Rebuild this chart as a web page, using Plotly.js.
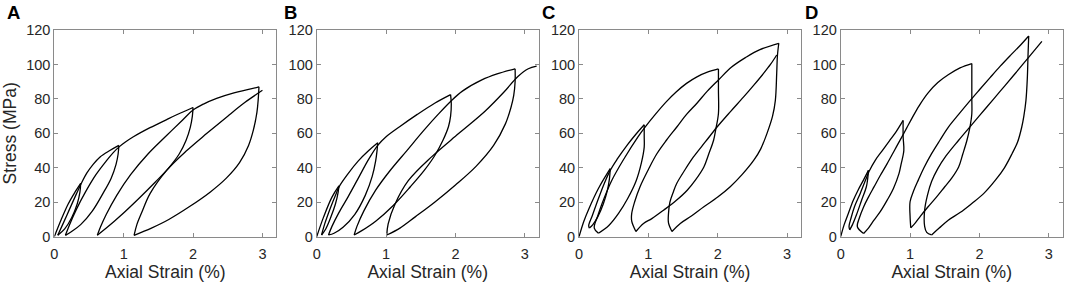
<!DOCTYPE html>
<html>
<head>
<meta charset="utf-8">
<script src="https://cdn.plot.ly/plotly-3.0.1.min.js"></script>
<style>html,body{margin:0;padding:0;background:#fff;}#chart{width:1065px;height:288px;}</style>
</head>
<body>
<div id="chart"></div>
<script>
// Panel labels and axis texts
const panelLabels = ["A", "B", "C", "D"];
const xTitle = "Axial Strain (%)";
const yTitle = "Stress (MPa)";
const xTickVals = [0, 1, 2, 3];
const yTickVals = [0, 20, 40, 60, 80, 100, 120];

// Panel A: axial strain (%) and stress (MPa) along the cyclic loading path
const strainA = [0,0.1,0.2,0.3,0.38, 0.37,0.33,0.25,0.15,0.05,
  0.12,0.22,0.32,0.39,0.47,0.56,0.66,0.8,0.93,
  0.92,0.89,0.82,0.7,0.55,0.38,0.25,0.16,
  0.22,0.32,0.45,0.6,0.75,0.85,0.93,1.02,1.14,1.38,1.62,1.82,2.0,
  1.99,1.96,1.9,1.8,1.65,1.45,1.2,0.95,0.78,0.62,
  0.67,0.75,0.9,1.1,1.35,1.6,1.85,2.0,2.15,2.34,2.59,2.8,2.95,
  2.94,2.92,2.87,2.8,2.67,2.48,2.25,1.95,1.65,1.4,1.15,
  1.19,1.26,1.38,1.62,1.91,2.2,2.5,2.75,3.0];
const stressA = [0,10,19,26,31, 26,19,11,4.5,0.8,
  7,16,25,31,37,42,46.3,50,53,
  48,42,34,25,15,7,3,0.8,
  7,16,26,36,44,48.8,52,54.8,58,63.3,68,71.8,75,
  70,63.5,56,48,40,31.5,21.5,12,6,0.8,
  6,13,24,36,48,58,67.8,73.5,77,80.3,83.5,85.5,87,
  80,72,62,53,43,34,26,17.5,10,5,0.8,
  7,14,25,38.5,50,60,70,78,85];

// Panel B
const strainB = [0,0.1,0.22,0.32, 0.31,0.27,0.2,0.13,0.07,
  0.12,0.2,0.28,0.33,0.45,0.6,0.75,0.88,
  0.87,0.85,0.8,0.7,0.55,0.38,0.25,0.17,
  0.22,0.32,0.45,0.6,0.75,0.88,1.0,1.2,1.45,1.7,1.93,
  1.94,1.93,1.9,1.82,1.7,1.55,1.35,1.1,0.85,0.65,0.54,
  0.58,0.68,0.85,1.05,1.3,1.55,1.75,1.93,2.1,2.38,2.6,2.86,
  2.86,2.84,2.8,2.72,2.55,2.3,2.0,1.7,1.42,1.2,1.01,
  1.03,1.13,1.32,1.66,2.05,2.43,2.7,2.9,3.05,3.17];
const stressB = [0,11.5,23,29.5, 26,19,11,4.5,1,
  8,17,25,29.5,36.5,44,50,54.5,
  50,44,35,24,13,5.5,2,1,
  6,14,23,34,45,53,58,64,71,77.5,82.5,
  77,70,64,56,47,38.5,29,18,9,3.5,1,
  6,15,27,38,50,62,71,78.5,84.5,91,94.5,97.5,
  90,82,75,65.5,53,41,30,20,11.5,5,1,
  7.5,19,32.5,46.5,60,73,84,93,97.5,99];

// Panel C
const strainC = [0,0.07,0.14,0.28,0.45, 0.44,0.41,0.35,0.27,0.2,0.15,
  0.14,0.19,0.27,0.36,0.45,0.55,0.7,0.82,0.94,
  0.94,0.94,0.9,0.82,0.7,0.57,0.43,0.28,
  0.22,0.27,0.33,0.47,0.66,0.85,0.95,1.1,1.25,1.4,1.55,1.7,1.85,2.01,
  2.01,2.01,1.97,1.94,1.87,1.8,1.68,1.56,1.4,1.22,1.05,0.93,0.82,
  0.76,0.76,0.8,0.88,1.0,1.12,1.26,1.41,1.55,1.7,1.85,2.01,2.2,2.4,2.6,2.88,
  2.86,2.85,2.83,2.79,2.71,2.62,2.52,2.35,2.18,2.0,1.8,1.62,1.46,1.34,
  1.29,1.29,1.31,1.36,1.41,1.53,1.65,1.82,1.99,2.18,2.37,2.52,2.66,2.76,2.85];
const stressC = [0,9,16,28,39.5, 34,27,19,11.5,7,5,
  6.5,12,21,30.5,38.5,45,53.5,59.5,65,
  58,52,43,32,22,13.5,6.5,2,
  5,12,19,32.5,46,58,63.5,71,78,84,89,92.8,95.5,97.4,
  85,71.5,62,56,48,40.5,33,27,21,15.4,10.5,7.7,3,
  9,13.5,20,29,39,48,56,63.7,71,77.5,84.5,91,98.5,104,108.5,112.3,
  105,95,79,70,60,51,44.4,36,29,23,17.4,12,7.7,3,
  8,13.5,20,26,31,39,46.3,55,63.7,72.5,81,88,94.8,100,105.5];

// Panel D
const strainD = [0,0.05,0.11,0.18,0.25,0.33,0.4, 0.39,0.37,0.3,0.23,0.17,0.13,
  0.12,0.15,0.2,0.28,0.36,0.41,0.5,0.6,0.7,0.8,0.9,
  0.9,0.91,0.87,0.84,0.76,0.67,0.57,0.48,0.4,0.33,
  0.24,0.27,0.33,0.4,0.48,0.57,0.67,0.78,0.88,0.95,1.03,1.13,1.26,1.4,1.55,1.72,1.89,
  1.89,1.89,1.89,1.86,1.82,1.76,1.7,1.6,1.5,1.38,1.26,1.15,1.07,1.01,
  1.0,1.0,1.05,1.12,1.2,1.31,1.43,1.55,1.7,1.85,2.0,2.15,2.3,2.45,2.6,2.71,
  2.7,2.69,2.67,2.64,2.61,2.55,2.47,2.36,2.23,2.06,1.89,1.72,1.55,1.42,1.31,
  1.24,1.21,1.21,1.25,1.31,1.4,1.52,1.7,1.9,2.1,2.3,2.5,2.7,2.9];
const stressD = [0,7,13.5,21,27,33,38.5, 34,29,21,13,7,4,
  6,11,17.5,25,33,38,44.5,50,55.5,61,67.5,
  58,50,42,36.6,28,21.2,14.5,9.6,5,1.9,
  5.8,11,17.3,23,28.9,35.5,42.4,50.5,57.8,63,69,76,83.5,89.5,94,98,100.5,
  90,80,71.4,63,56,48,40.5,34,29,23,17.4,12,7.7,5.2,
  12,20.3,26.5,33,40,48.2,56,63.5,71,78.3,85.3,92.2,99,105.4,111.6,116.5,
  105,92,79,70,63.7,55,48.2,40,32.8,25,19.3,14,9.6,5,1,
  2.5,6,15.4,24,32,39.5,47,56,65.5,75,84.5,94,103.7,113.4];

const strains = [strainA, strainB, strainC, strainD];
const stresses = [stressA, stressB, stressC, stressD];

const leftPx = [54.3, 316.7, 579, 840.7];
const plotW = 222;
const W = 1065, H = 288;
const yDom = [1 - 236.7 / H, 1 - 30 / H];
const labelX = [13.7, 290.8, 548.8, 811];

const tickFont = {family: "Liberation Sans, Arial, sans-serif", size: 14.5, color: "#262626"};
const titleFont = {family: "Liberation Sans, Arial, sans-serif", size: 17.5, color: "#262626"};
const axisCommon = {
  showline: true, linecolor: "#8a8a8a", linewidth: 1, mirror: "ticks",
  ticks: "inside", ticklen: 4, tickcolor: "#8a8a8a", tickwidth: 1,
  showgrid: false, zeroline: false, tickfont: tickFont, fixedrange: true
};

// split a path into loading / unloading branches (at stress turning points)
function branches(xs, ys) {
  const out = [];
  let start = 0;
  for (let i = 1; i < ys.length - 1; i++) {
    if ((ys[i] - ys[i - 1]) * (ys[i + 1] - ys[i]) < 0) {
      out.push([xs.slice(start, i + 1), ys.slice(start, i + 1)]);
      start = i;
    }
  }
  out.push([xs.slice(start), ys.slice(start)]);
  return out;
}

const data = [];
const layout = {
  width: W, height: H, margin: {l: 0, r: 0, t: 0, b: 0},
  paper_bgcolor: "#ffffff", plot_bgcolor: "#ffffff", showlegend: false,
  annotations: []
};

for (let i = 0; i < 4; i++) {
  const sfx = i === 0 ? "" : String(i + 1);
  branches(strains[i], stresses[i]).forEach(function (b) {
    data.push({
      x: b[0], y: b[1], type: "scatter", mode: "lines",
      line: {color: "#000000", width: 1.3, shape: "spline", smoothing: 1},
      xaxis: "x" + sfx, yaxis: "y" + sfx, hoverinfo: "skip"
    });
  });
  layout["xaxis" + sfx] = Object.assign({}, axisCommon, {
    domain: [leftPx[i] / W, (leftPx[i] + plotW) / W],
    range: [0, 3.2], tickvals: xTickVals, anchor: "y" + sfx,
    ticklabelstandoff: 4,
    title: {text: xTitle, font: titleFont, standoff: 4}
  });
  layout["yaxis" + sfx] = Object.assign({}, axisCommon, {
    domain: yDom, range: [0, 120], tickvals: yTickVals, anchor: "x" + sfx,
    title: i === 0 ? {text: yTitle, font: titleFont, standoff: 6} : {text: ""}
  });
  layout.annotations.push({
    text: "<b>" + panelLabels[i] + "</b>", xref: "paper", yref: "paper",
    x: labelX[i] / W, y: 1 - 12.7 / H, xanchor: "center", yanchor: "middle",
    showarrow: false, font: {family: "Liberation Sans, Arial, sans-serif", size: 18.5, color: "#000000"}
  });
}

Plotly.newPlot("chart", data, layout, {staticPlot: true, displayModeBar: false});
</script>
</body>
</html>
